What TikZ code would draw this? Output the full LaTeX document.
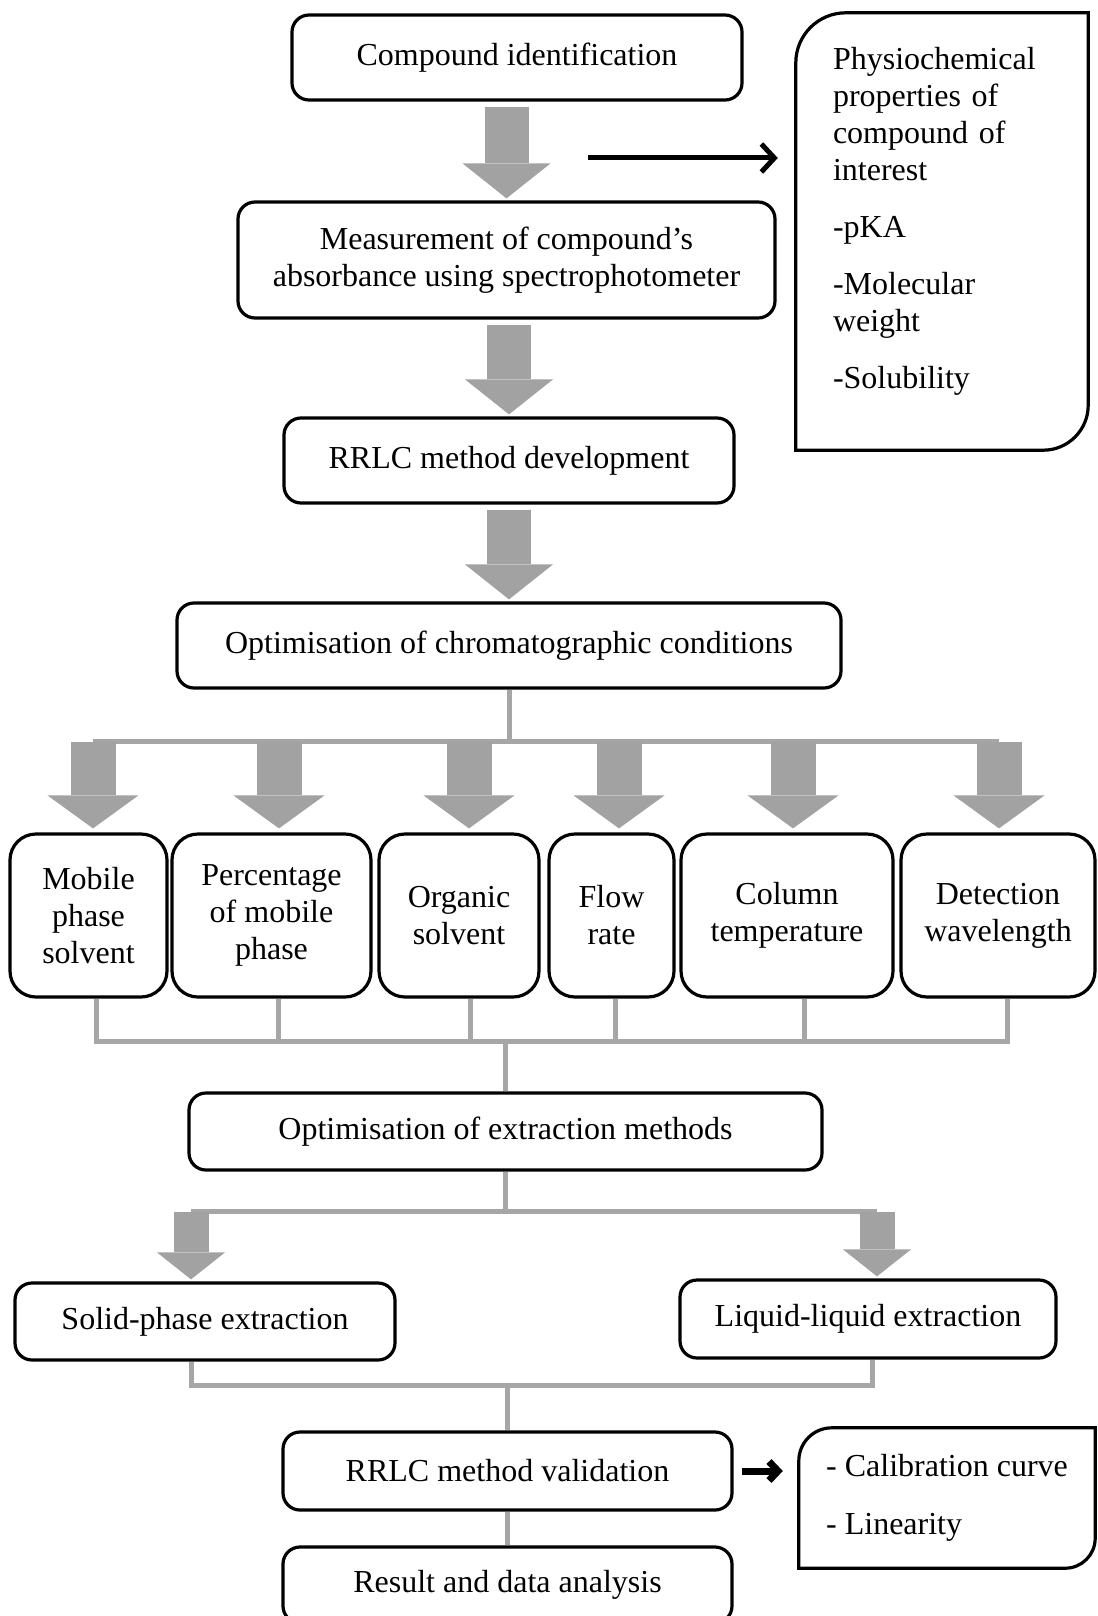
\documentclass[tikz,border=0pt]{standalone}
\usepackage{fontspec}
\setmainfont{Liberation Serif}
\usepackage{tikz}
\usetikzlibrary{arrows.meta}
\definecolor{linegray}{RGB}{166,166,166}
\definecolor{arrowgray}{RGB}{162,162,162}
\newcommand{\figfont}{\fontsize{32}{37}\selectfont}

\begin{document}
\begin{tikzpicture}[x=1pt,y=-1pt,
    stagebox/.style={draw, line width=3.2pt, rounded corners=17pt, align=center, inner sep=0pt, font=\figfont},
    condbox/.style={stagebox, rounded corners=26pt, minimum height=163pt},
    notebox/.style={align=left, inner ysep=0pt, font=\figfont},
    noteline/.style={line width=3.2pt, line cap=rect},
    tree/.style={linegray, line width=5pt},
    bigarrow/.style={arrowgray, line width=44pt, -{Triangle[width=88pt,length=35pt,line width=0pt]}, shorten <=5pt, shorten >=2pt},
    midarrow/.style={arrowgray, line width=45pt, -{Triangle[width=91pt,length=33pt,line width=0pt]}, shorten >=4pt},
    smallarrow/.style={arrowgray, line width=35pt, -{Triangle[width=68pt,length=27pt,line width=0pt]}, shorten >=2pt},
    pointer/.style={black, line width=5pt, -{Straight Barb[length=13pt,width=28pt]}}]
\useasboundingbox (0,0) rectangle (1097,1616);

\node[stagebox, minimum width=450pt, minimum height=85pt] (c1) at (517,57.5) {Compound identification};
\node[stagebox, minimum width=537pt, minimum height=116pt] (c2) at (506.5,260) {Measurement of compound’s\\absorbance using spectrophotometer};
\node[stagebox, minimum width=450pt, minimum height=85pt] (c3) at (509,460.5) {RRLC method development};
\node[stagebox, minimum width=664pt, minimum height=85pt] (c4) at (509,645.5) {Optimisation of chromatographic conditions};

\draw[bigarrow] (c2.north |- c1.south) -- (c2.north);
\draw[bigarrow] (c3.north |- c2.south) -- (c3.north);
\draw[bigarrow] (c3.south) -- (c4.north);

% properties box
\node[notebox, text width=218pt, inner xsep=37pt, minimum height=437pt] (ph) at (942,221.5)
  {Physiochemical\\properties of\\compound of\\interest\\[20pt]-pKA\\[20pt]-Molecular\\weight\\[20pt]-Solubility};
\draw[noteline, rounded corners=50pt] ([yshift=-10pt]ph.south west) -- ([yshift=-10pt]ph.north west) -- ([yshift=-10pt]ph.north east);
\draw[noteline, rounded corners=45pt] ([yshift=-10pt]ph.north east) -- ([yshift=-10pt]ph.south east) -- ([yshift=-10pt]ph.south west);
\coordinate (pt1) at (588,158);
\draw[pointer, shorten >=18pt] (pt1) -- (pt1 -| ph.west);

% chromatographic conditions
\foreach \n/\x/\w/\txt in {m1/88.5/157/{Mobile\\phase\\solvent}, m2/271.5/199/{Percentage\\of mobile\\phase},
    m3/459/160/{Organic\\solvent}, m4/611.5/125/{Flow\\rate}, m5/787/212/{Column\\temperature}, m6/998/194/{Detection\\wavelength}}
  \node[condbox, minimum width=\w pt] (\n) at (\x,915.5) {\txt};

\coordinate (hub1) at ([yshift=-52pt]c4.south);
\draw[tree] (c4.south) -- (hub1);
\draw[tree] ([xshift=4.5pt]hub1 -| m1.north) -- ([xshift=1pt]hub1 -| m6.north);
\foreach \n/\s in {m1/4.5,m2/7.5,m3/10,m4/7.5,m5/6,m6/1}
  \draw[midarrow] ([xshift=\s pt]hub1 -| \n.north) -- ([xshift=\s pt]\n.north);

% extraction
\node[stagebox, minimum width=633pt, minimum height=77pt] (ex) at (505.5,1131.5) {Optimisation of extraction methods};
\coordinate (hub2) at ([yshift=50pt]ex.north);
\foreach \n/\s in {m1/7.5,m2/6.5,m3/11,m4/3.5,m5/17,m6/9}
  \draw[tree] ([xshift=\s pt]\n.south) -- ([xshift=\s pt]\n.south |- hub2);
\draw[tree, line cap=rect] ([xshift=7.5pt]m1.south |- hub2) -- ([xshift=9pt]m6.south |- hub2);
\draw[tree] (hub2) -- (ex.north);

\node[stagebox, minimum width=380pt, minimum height=77pt] (sp) at (205,1321.5) {Solid-phase extraction};
\node[stagebox, minimum width=376pt, minimum height=78pt] (ll) at (868,1319) {Liquid-liquid extraction};
\coordinate (hub3) at ([yshift=-40pt]ex.south);
\draw[tree] (ex.south) -- (hub3);
\draw[tree] ([xshift=-14pt]hub3 -| sp.north) -- ([xshift=9pt]hub3 -| ll.north);
\draw[smallarrow] ([xshift=-14pt]hub3 -| sp.north) -- ([xshift=-14pt]sp.north);
\draw[smallarrow] ([xshift=9pt]hub3 -| ll.north) -- ([xshift=9pt]ll.north);

% validation
\node[stagebox, minimum width=449pt, minimum height=78pt] (va) at (507.5,1471) {RRLC method validation};
\node[stagebox, minimum width=449pt, minimum height=76pt] (re) at (507.5,1585) {Result and data analysis};
\coordinate (hub4) at ([yshift=45pt]va.north);
\draw[tree] ([xshift=-14pt]sp.south) -- ([xshift=-14pt]sp.south |- hub4);
\draw[tree] ([xshift=4pt]ll.south) -- ([xshift=4pt]ll.south |- hub4);
\draw[tree, line cap=rect] ([xshift=-14pt]sp.south |- hub4) -- ([xshift=4pt]ll.south |- hub4);
\draw[tree] (hub4) -- (va.north);
\draw[tree] (va.south) -- (re.north);

\node[notebox, minimum width=296pt, minimum height=140pt] (cb) at (947,1498) {- Calibration curve\\[21pt]- Linearity};
\draw[noteline, rounded corners=33pt] (cb.south west) -- (cb.north west) -- (cb.north east);
\draw[noteline, rounded corners=30pt] (cb.north east) -- (cb.south east) -- (cb.south west);
\draw[pointer, line width=7pt, -{Straight Barb[length=9pt,width=19pt]}, shorten <=8pt, shorten >=16pt] (va.east) -- (va.east -| cb.west);
\end{tikzpicture}
\end{document}
